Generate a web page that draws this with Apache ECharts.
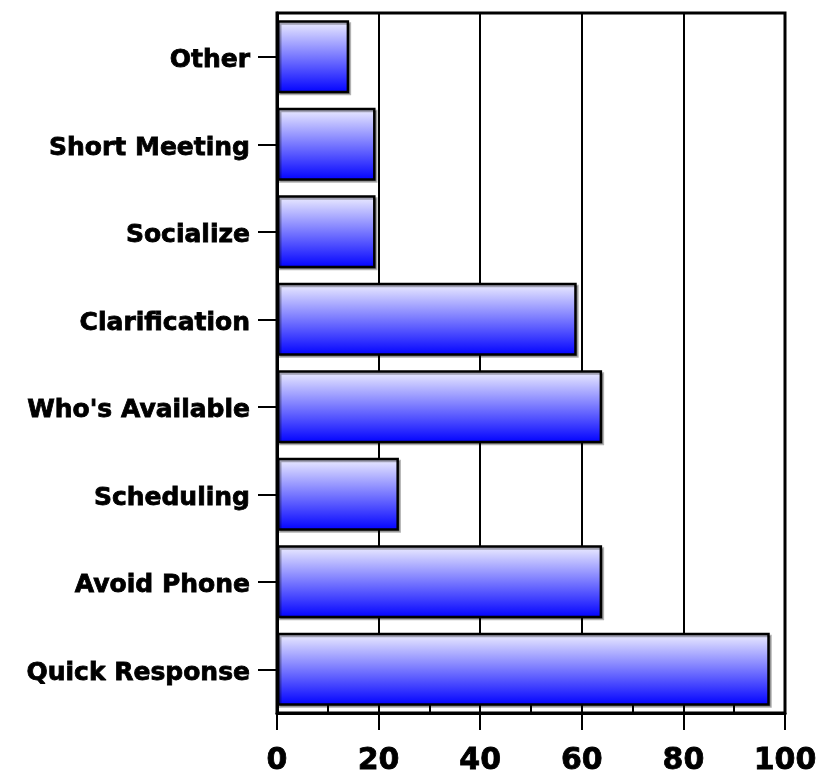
<!DOCTYPE html>
<html>
<head>
<meta charset="utf-8">
<script src="https://cdn.jsdelivr.net/npm/echarts@6/dist/echarts.min.js"></script>
<style>
html,body{margin:0;padding:0;background:#fff;}
#c{width:837px;height:773px;}
</style>
</head>
<body>
<div id="c"></div>
<script>
var categories = ['Quick Response', 'Avoid Phone', 'Scheduling', "Who's Available", 'Clarification', 'Socialize', 'Short Meeting', 'Other'];
var values = [97, 64, 24, 64, 59, 19.4, 19.4, 14.2];
var tickLabels = ['0', '20', '40', '60', '80', '100'];

var chart = echarts.init(document.getElementById('c'));
var font = 'DejaVu Sans';
chart.setOption({
  animation: false,
  backgroundColor: '#fff',
  grid: {left: 277, right: 52, top: 13, bottom: 60, outerBoundsMode: 'none', containLabel: false,
         show: true, borderColor: '#000', borderWidth: 3, backgroundColor: 'transparent'},
  xAxis: [{
    type: 'value', min: 0, max: 100, interval: 20, position: 'bottom',
    axisLine: {show: true, lineStyle: {color: '#000', width: 3}},
    axisTick: {show: true, length: 17, lineStyle: {color: '#000', width: 2}},
    splitLine: {show: true, lineStyle: {color: '#000', width: 2}},
    axisLabel: {
      margin: 33, color: '#000', fontFamily: font, fontWeight: 'bold', fontSize: 30,
      textBorderColor: '#000', textBorderWidth: 0.8,
      formatter: function (v) { return tickLabels[Math.round(v / 20)]; }
    }
  }, {
    type: 'value', min: 0, max: 100, interval: 10, position: 'bottom',
    axisLine: {show: false},
    axisTick: {show: true, inside: true, length: 10, lineStyle: {color: '#000', width: 2}},
    splitLine: {show: false},
    axisLabel: {show: false}
  }],
  yAxis: {
    type: 'category', data: categories,
    axisLine: {show: true, lineStyle: {color: '#000', width: 3}},
    axisTick: {show: true, alignWithLabel: true, length: 19, lineStyle: {color: '#000', width: 2}},
    axisLabel: {margin: 27, color: '#000', fontFamily: font, fontWeight: 'bold', fontSize: 25,
                textBorderColor: '#000', textBorderWidth: 0.8,
                verticalAlign: 'top', lineHeight: 8}
  },
  series: [{
    type: 'bar', data: values, xAxisIndex: 0, barWidth: 73,
    itemStyle: {
      color: new echarts.graphic.LinearGradient(0, 0, 0, 1, [
        {offset: 0, color: '#f0f0ff'},
        {offset: 1, color: '#0000ff'}
      ]),
      borderColor: '#000', borderWidth: 2.5,
      shadowColor: 'rgba(0,0,0,0.3)', shadowOffsetX: 2, shadowOffsetY: 2, shadowBlur: 0
    }
  }]
});
</script>
</body>
</html>
